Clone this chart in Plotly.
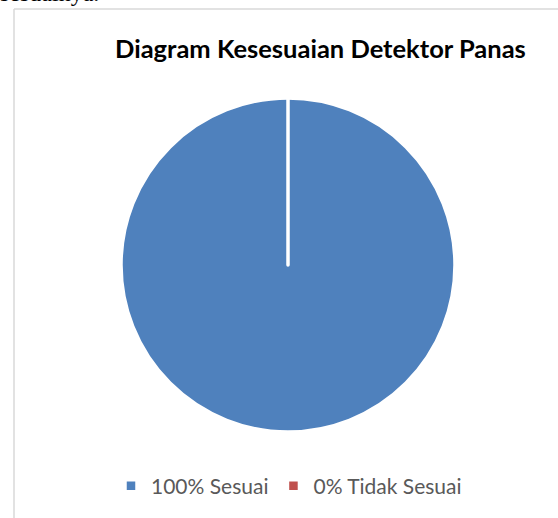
import plotly.graph_objects as go

labels = ["100% Sesuai", "0% Tidak Sesuai"]
values = [100, 0]
colors = ["#4F81BD", "#C0504D"]
title_text = "Diagram Kesesuaian Detektor Panas"
page_text = "sesuainya."

W, H = 558, 518
cx, cy, r = 288, 265, 167

fig = go.Figure(go.Pie(
    labels=labels, values=values, sort=False, direction="clockwise", rotation=0,
    marker=dict(colors=colors, line=dict(color="white", width=3.5)),
    textinfo="none", hoverinfo="label+value", showlegend=True,
    domain=dict(x=[(cx - r) / W, (cx + r) / W], y=[1 - (cy + r) / H, 1 - (cy - r) / H]),
))

fig.update_layout(
    width=W, height=H,
    margin=dict(l=0, r=0, t=0, b=0),
    paper_bgcolor="white", plot_bgcolor="white",
    showlegend=True,
    legend=dict(orientation="h", x=289 / W, xanchor="center", y=1 - 486 / H, yanchor="middle",
                font=dict(family="Lato", size=21, color="#595959"),
                itemwidth=30, traceorder="normal"),
    annotations=[
        dict(text="<b>" + title_text + "</b>", x=320 / W, y=1 - 48.5 / H, xref="paper", yref="paper",
             xanchor="center", yanchor="middle", showarrow=False,
             font=dict(family="Lato", size=25.5, color="black")),
        dict(text=page_text, x=-2 / W, y=1 - 8 / H, xref="paper", yref="paper",
             xanchor="left", yanchor="bottom", showarrow=False,
             font=dict(family="Liberation Serif", size=24, color="black")),
    ],
    shapes=[
        dict(type="line", xref="paper", yref="paper", x0=14 / W, x1=14 / W, y0=0, y1=1 - 9 / H,
             line=dict(color="#D9D9D9", width=1.5)),
        dict(type="line", xref="paper", yref="paper", x0=14 / W, x1=1, y0=1 - 9 / H, y1=1 - 9 / H,
             line=dict(color="#D9D9D9", width=1.5)),
    ],
)

fig.write_html("out.html", config={"displayModeBar": False},
               post_script="document.body.style.margin='0px';document.body.style.overflow='hidden';")
